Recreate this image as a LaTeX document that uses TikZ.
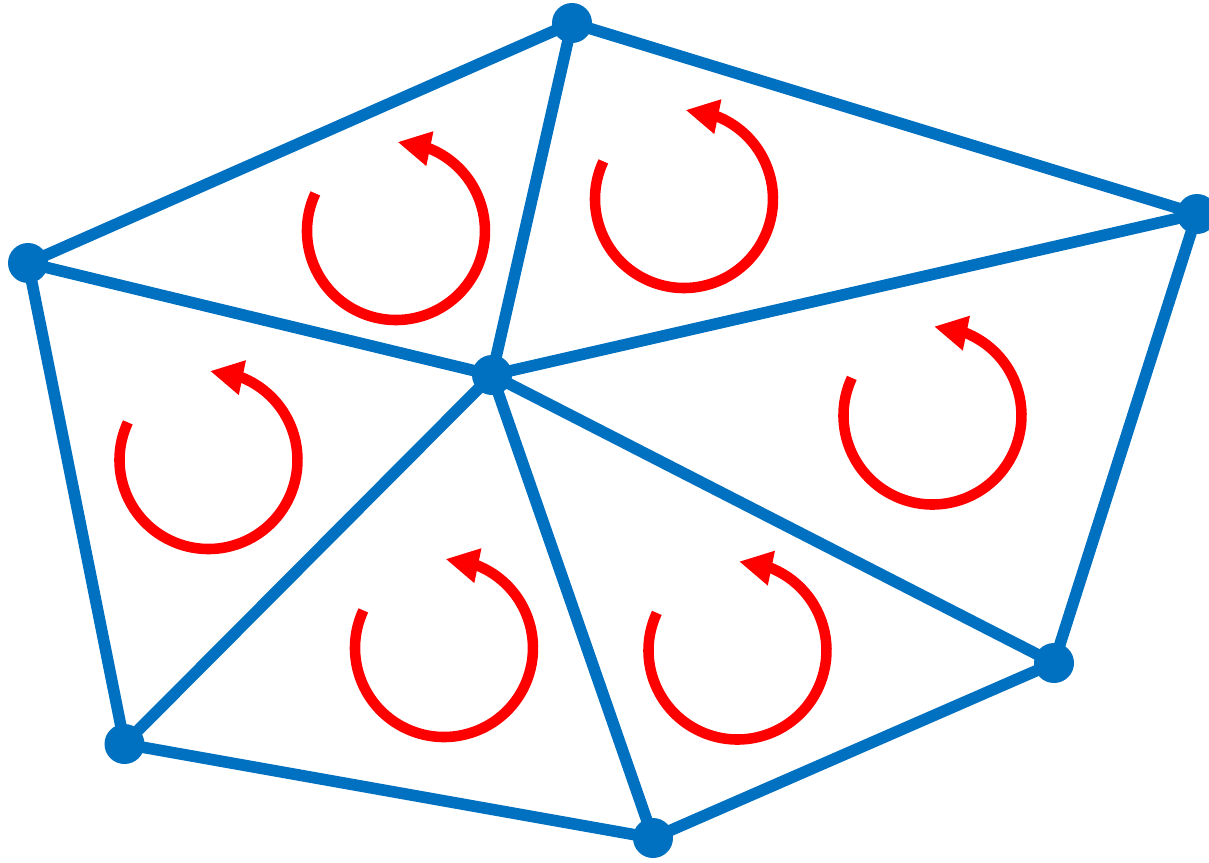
\documentclass[tikz,border=0pt]{standalone}
\usetikzlibrary{arrows.meta,bending,backgrounds}
\definecolor{meshblue}{HTML}{0070C0}
\definecolor{spinred}{HTML}{FF0000}
\begin{document}
\begin{tikzpicture}[
            x=1cm, y=1cm,
            edge/.style={meshblue, line width=3.3pt},
            vertex/.style={circle, fill=meshblue, inner sep=0pt, minimum size=0.4cm},
            spin/.style={spinred, line width=3pt, -{Triangle[length=0.33cm, width=0.33cm]}}
        ]
        \useasboundingbox (0, 0) rectangle (12.09, 8.62);

        % vertices
        \node[vertex] (top) at (5.72, 8.39) {};
        \node[vertex] (right) at (11.97, 6.48) {};
        \node[vertex] (lowright) at (10.54, 1.99) {};
        \node[vertex] (bottom) at (6.53, 0.24) {};
        \node[vertex] (lowleft) at (1.245, 1.18) {};
        \node[vertex] (left) at (0.28, 5.99) {};
        \node[vertex] (mid) at (4.92, 4.87) {};

        \begin{scope}[on background layer]
            % outer edges
            \draw[edge] (left.center) -- (top.center) -- (right.center) -- (lowright.center)
                -- (bottom.center) -- (lowleft.center) -- cycle;

            % inner edges
            \foreach \v in {top, right, lowright, bottom, lowleft, left} {
                    \draw[edge] (mid.center) -- (\v.center);
                }
        \end{scope}

        % orientation arrows
        \foreach \x/\y in {3.96/6.31, 6.84/6.63, 2.085/4.02, 9.325/4.465, 4.44/2.14, 7.375/2.115} {
                \draw[spin] (\x, \y) ++(155:0.89) arc[start angle=155, end angle=449, radius=0.89];
            }
    \end{tikzpicture}
\end{document}
